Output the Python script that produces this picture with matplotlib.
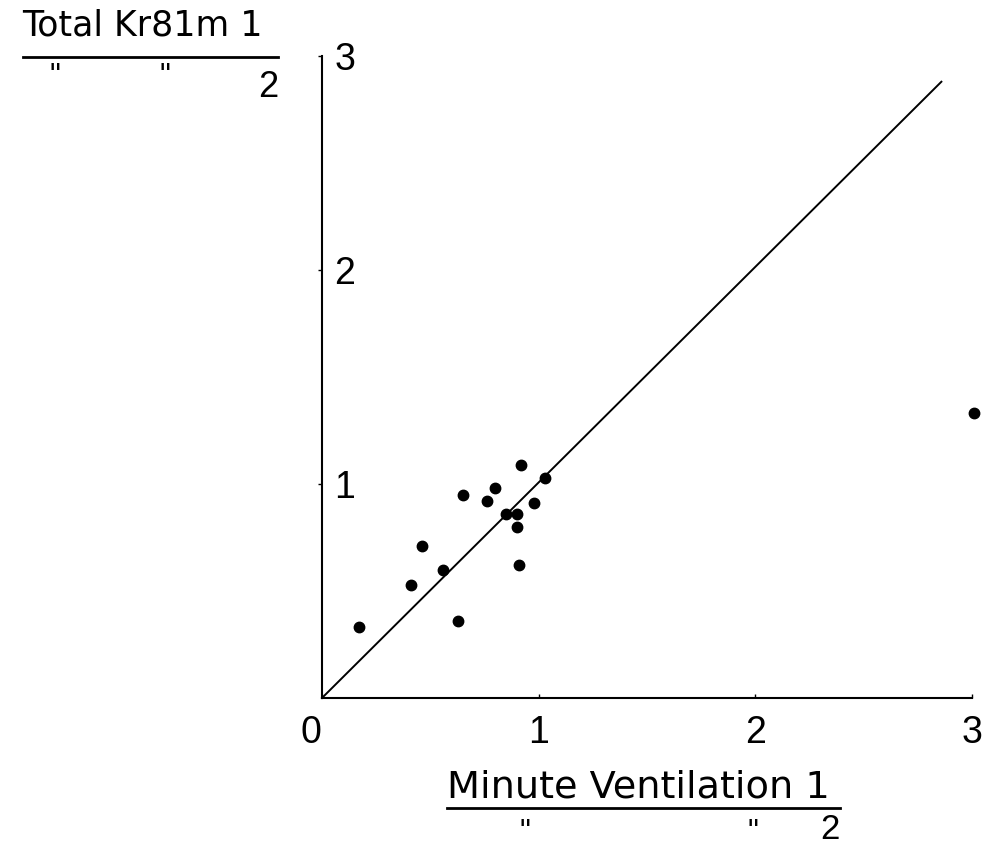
import matplotlib
matplotlib.use("Agg")
import matplotlib.pyplot as plt
from matplotlib.lines import Line2D
from matplotlib.transforms import ScaledTranslation

# ratio of minute ventilation (lung 1 / lung 2) vs total Kr81m counts ratio
vent_ratio = [0.17, 0.63, 0.41, 0.46, 0.56, 0.65, 0.76, 0.80, 0.92, 1.03,
              0.98, 0.85, 0.90, 0.90, 0.91, 3.01]
kr_ratio = [0.33, 0.36, 0.53, 0.71, 0.60, 0.95, 0.92, 0.98, 1.09, 1.03,
            0.91, 0.86, 0.86, 0.80, 0.62, 1.33]

# line of identity
identity_x = [0.0, 2.86]
identity_y = [0.0, 2.88]

ticks = [0, 1, 2, 3]
tick_labels = ["0", "1", "2", "3"]

plt.rcParams['font.family'] = ['Liberation Sans', 'DejaVu Sans']
caption_font = ['DejaVu Sans']

fig = plt.figure(figsize=(9.85, 8.48), dpi=100)
ax = fig.add_axes([0.3269, 0.1769, 0.6596, 0.757])

ax.plot(identity_x, identity_y, color='black', linewidth=1.4, clip_on=False)
ax.plot(vent_ratio, kr_ratio, 'o', color='black', markersize=7.5, clip_on=False)

ax.set_xlim(0, 3)
ax.set_ylim(0, 3)
for side in ['top', 'right']:
    ax.spines[side].set_visible(False)
for side in ['left', 'bottom']:
    ax.spines[side].set_linewidth(1.5)

ax.set_xticks(ticks)
ax.set_xticklabels(tick_labels, fontsize=27)
ax.tick_params(axis='x', direction='in', length=3, width=1, pad=12)
# origin label sits a bit left of the corner
ax.get_xticklabels()[0].set_transform(
    ax.get_xticklabels()[0].get_transform()
    + ScaledTranslation(-11 / 100, 0, fig.dpi_scale_trans))

ax.set_yticks(ticks[1:])
ax.set_yticklabels(tick_labels[1:], fontsize=27)
ax.tick_params(axis='y', direction='out', length=3, width=1, pad=-12)
for lab in ax.get_yticklabels():
    lab.set_horizontalalignment('left')

# y axis caption written as a fraction
fig.text(0.0223, 1 - 35 / 848, "Total Kr81m 1", fontsize=25, family=caption_font,
         va='baseline', ha='left')
fig.add_artist(Line2D([23 / 985, 278 / 985], [1 - 57 / 848] * 2,
                      color='black', linewidth=2, transform=fig.transFigure))
fig.text(55 / 985, 1 - 77 / 848, '"', fontsize=22, va='center', ha='center')
fig.text(165 / 985, 1 - 77 / 848, '"', fontsize=22, va='center', ha='center')
fig.text(278 / 985, 1 - 97 / 848, "2", fontsize=26, va='baseline', ha='right')

# x axis caption written as a fraction
fig.text(447 / 985, 1 - 797 / 848, "Minute Ventilation 1", fontsize=27.5,
         family=caption_font, va='baseline', ha='left')
fig.add_artist(Line2D([447 / 985, 840 / 985], [1 - 808 / 848] * 2,
                      color='black', linewidth=2, transform=fig.transFigure))
fig.text(525 / 985, 1 - 833 / 848, '"', fontsize=22, va='center', ha='center')
fig.text(753 / 985, 1 - 833 / 848, '"', fontsize=22, va='center', ha='center')
fig.text(840 / 985, 1 - 846 / 848, "2", fontsize=25, va='bottom', ha='right')

fig.savefig("out.png", dpi=100)
